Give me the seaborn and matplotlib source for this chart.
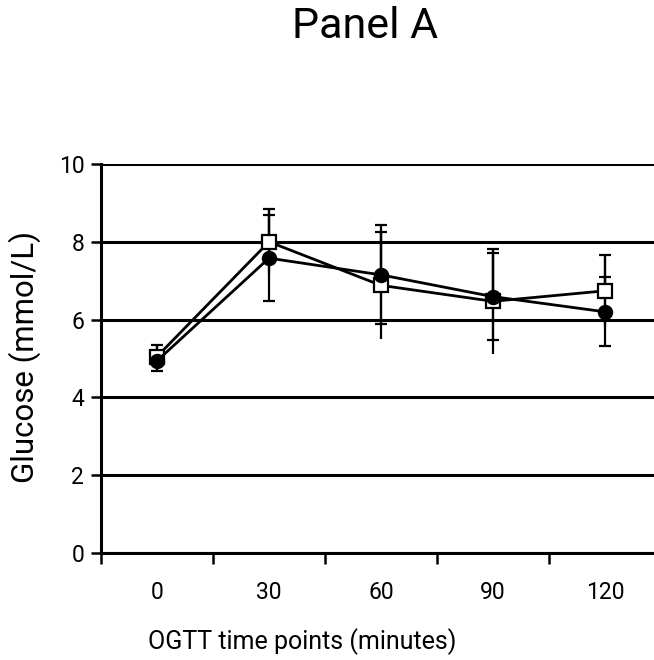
import numpy as np
import pandas as pd
import matplotlib
matplotlib.use("Agg")
import matplotlib.pyplot as plt
import seaborn as sns

# values
times = ["0", "30", "60", "90", "120"]
glucose_open = [5.05, 8.00, 6.88, 6.47, 6.74]
sd_open = [0.30, 0.84, 1.37, 1.35, 0.92]
glucose_filled = [4.94, 7.58, 7.15, 6.59, 6.20]
sd_filled = [0.26, 1.10, 1.27, 1.12, 0.89]
y_ticks = [0, 2, 4, 6, 8, 10]

sns.set_style("white")
plt.rcParams["font.family"] = ["Roboto", "DejaVu Sans"]
plt.rcParams["text.color"] = "black"
plt.rcParams["axes.labelcolor"] = "black"
plt.rcParams["xtick.color"] = "black"
plt.rcParams["ytick.color"] = "black"

df = pd.DataFrame({
    "time": times * 2,
    "glucose": glucose_open + glucose_filled,
    "sd": sd_open + sd_filled,
    "group": ["open"] * len(times) + ["filled"] * len(times),
})

fig = plt.figure(figsize=(6.54, 6.60), dpi=100)
ax = fig.add_axes([101 / 654, 107 / 660, 560 / 654, 389 / 660])

op = df[df["group"] == "open"]
fi = df[df["group"] == "filled"]
zeros = np.zeros(len(op))

# open squares: full bar, cap only on the upper end
ax.errorbar(op["time"], op["glucose"], yerr=op["sd"], fmt="none",
            ecolor="black", elinewidth=1.6, capsize=0, zorder=2)
ax.errorbar(op["time"], op["glucose"], yerr=[zeros, op["sd"].values], fmt="none",
            ecolor="black", elinewidth=1.6, capsize=4, capthick=1.6, zorder=2)
# filled circles: caps on both ends
ax.errorbar(fi["time"], fi["glucose"], yerr=fi["sd"], fmt="none",
            ecolor="black", elinewidth=1.6, capsize=4, capthick=1.6, zorder=2)

sns.lineplot(data=op, x="time", y="glucose", ax=ax, color="black",
             linewidth=2.0, sort=False, marker="s", markersize=9.5,
             markerfacecolor="white", markeredgecolor="black",
             markeredgewidth=1.6, zorder=3)
sns.lineplot(data=fi, x="time", y="glucose", ax=ax, color="black",
             linewidth=2.0, sort=False, marker="o", markersize=9.5,
             markerfacecolor="black", markeredgecolor="black",
             markeredgewidth=1.6, zorder=4)

ax.set_xlim(-0.5, 4.5)
ax.set_ylim(0, 10)
ax.set_yticks(y_ticks)
ax.set_yticklabels([str(v) for v in y_ticks])
ax.yaxis.grid(True, color="black", linewidth=2.2)
ax.xaxis.grid(False)

# excel style: ticks between categories, labels at the centres
ax.set_xticks(np.arange(-0.5, 5.0, 1.0))
ax.set_xticklabels([])
ax.set_xticks(np.arange(len(times)), minor=True)
ax.set_xticklabels(times, minor=True)
ax.tick_params(axis="x", which="major", direction="out", length=8, width=1.8,
               color="black", bottom=True)
ax.tick_params(axis="x", which="minor", length=0, pad=20, labelsize=16.5)
ax.tick_params(axis="y", direction="out", length=7, width=1.8, color="black",
               left=True, pad=5, labelsize=16.5)

sns.despine(ax=ax, top=True, right=True)
for side in ["left", "bottom"]:
    ax.spines[side].set_color("black")
    ax.spines[side].set_linewidth(2.2)

ax.set_xlabel("")
ax.set_ylabel("Glucose (mmol/L)", fontsize=22.5)
ax.yaxis.set_label_coords(-0.136, 0.504)
ax.yaxis.label.set_va("center")

fig.text(302 / 654, 1 - 642 / 660, "OGTT time points (minutes)", fontsize=18,
         ha="center", va="center")
fig.text(365 / 654, 1 - 27 / 660, "Panel A", fontsize=31, ha="center", va="center")

fig.savefig("out.png", dpi=100)
